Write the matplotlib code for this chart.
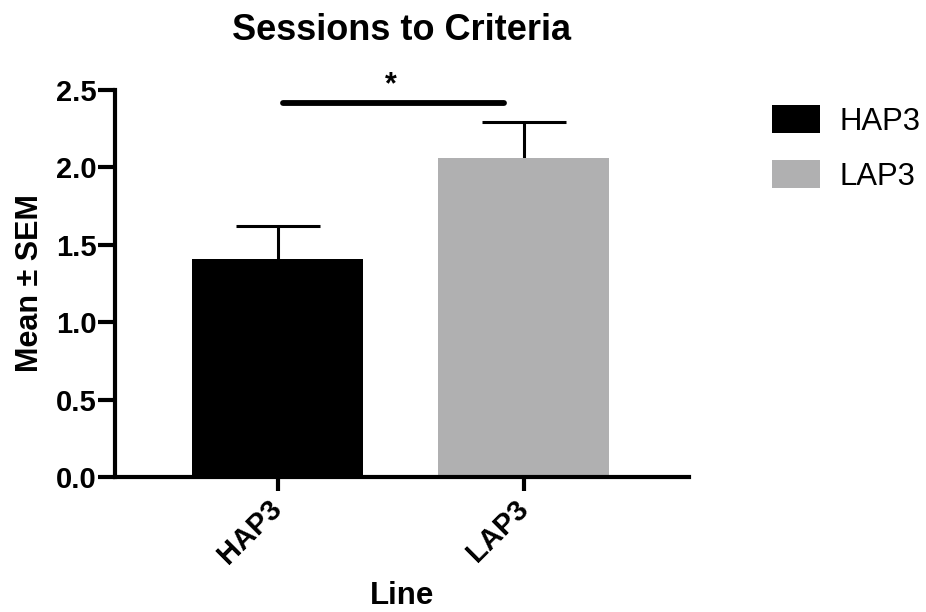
#!/usr/bin/env python3
# -*- coding: utf-8 -*-
"""Sessions to Criteria: bar chart, mean + SEM, Prism style."""

import matplotlib
matplotlib.use("Agg")
import matplotlib.pyplot as plt
from matplotlib.patches import Patch

# data
lines = ["HAP3", "LAP3"]
means = [1.41, 2.06]
sems = [0.21, 0.235]
bar_colors = ["#000000", "#b0b0b1"]
sig_pair = (0, 1)
sig_y = 2.418
sig_label = "*"

plt.rcParams["font.family"] = ["Liberation Sans", "DejaVu Sans"]

fig = plt.figure(figsize=(9.26, 6.12), dpi=100)
ax = fig.add_axes([0.1242, 0.2206, 0.6198, 0.6324])

x = list(range(len(lines)))
# error bars sit behind the bars so only the upper half shows
ax.errorbar(x, means, yerr=sems, fmt="none", ecolor="black",
            elinewidth=2.2, capsize=30, capthick=2.2, zorder=1)
ax.bar(x, means, width=0.694, color=bar_colors, edgecolor="none", zorder=2)

# significance bar
x0, x1 = sig_pair
ax.plot([x0 + 0.022, x1 - 0.081], [sig_y, sig_y], color="black", lw=4.2,
        solid_capstyle="round", clip_on=False)
ax.text((x0 + x1) / 2 - 0.04, sig_y + 0.11, sig_label, ha="center", va="center",
        fontsize=22, fontweight="bold", clip_on=False)

ax.set_xlim(-0.66, 1.67)
ax.set_ylim(0, 2.5)
ax.set_yticks([0.0, 0.5, 1.0, 1.5, 2.0, 2.5])
ax.set_yticklabels([f"{v:.1f}" for v in ax.get_yticks()])
ax.set_xticks(x)
ax.set_xticklabels(lines, rotation=45, ha="right", va="center",
                   rotation_mode="anchor")

for side in ["top", "right"]:
    ax.spines[side].set_visible(False)
for side in ["left", "bottom"]:
    ax.spines[side].set_linewidth(3)
ax.tick_params(axis="y", width=3, length=12, labelsize=21, pad=1)
ax.tick_params(axis="x", width=3, length=10, labelsize=21, pad=10)
for lab in ax.get_xticklabels() + ax.get_yticklabels():
    lab.set_fontweight("bold")

ax.set_title("Sessions to Criteria", fontsize=26, fontweight="bold", pad=36)
ax.set_ylabel("Mean ± SEM", fontsize=22, fontweight="bold", labelpad=8)
ax.set_xlabel("Line", fontsize=22.5, fontweight="bold", labelpad=8)

handles = [Patch(facecolor=c, edgecolor="none") for c in bar_colors]
fig.legend(handles, lines, loc="upper left", bbox_to_anchor=(0.82, 0.848),
           frameon=False, fontsize=22.4, handlelength=1.54, handleheight=1.0,
           handletextpad=0.64, labelspacing=0.75, borderaxespad=0)

fig.savefig("out.png", dpi=100)
plt.close(fig)
